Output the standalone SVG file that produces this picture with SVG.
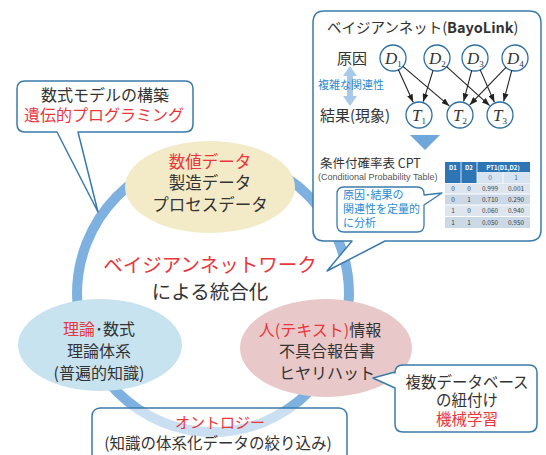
<svg xmlns="http://www.w3.org/2000/svg" width="546" height="455" viewBox="0 0 546 455">
<style>
text{font-family:"Noto Sans CJK JP","Noto Sans",sans-serif;fill:#333;}
.red{fill:#e8363d;}
.blue{fill:#2a8ad0;}
.bub{fill:#fff;stroke:#3a7bab;stroke-width:1.5;stroke-linejoin:round;}
.node{fill:#fff;stroke:#2e6fa0;stroke-width:1.3;}
.nl{font-family:"Liberation Serif",serif;font-style:italic;font-size:17px;fill:#333;}
.edge{stroke:#222;stroke-width:1.1;fill:none;marker-end:url(#ah);}
.th{fill:#fff;font-size:6px;font-weight:bold;text-anchor:middle;}
.td{font-size:6.5px;text-anchor:middle;fill:#444;}
.c{text-anchor:middle;}
</style>
<defs>
<marker id="ah" markerUnits="userSpaceOnUse" markerWidth="8" markerHeight="6" refX="8" refY="3" orient="auto"><path d="M0,0 L8,3 L0,6 z" fill="#222"/></marker>
</defs>

<!-- ring -->
<g id="ring"><ellipse cx="213" cy="294" rx="136" ry="138" fill="none" stroke="#7eb0e0" stroke-width="10"/></g>

<!-- ellipses -->
<g id="numeric">
<ellipse cx="210" cy="187" rx="85" ry="46" fill="#f3ebc8"/>
<text class="c" x="210" y="168" font-size="16.5"><tspan class="red">数値データ</tspan></text>
<text class="c" x="210" y="189" font-size="16.5">製造データ</text>
<text class="c" x="210" y="211" font-size="16.5">プロセスデータ</text>
</g>
<g id="theory">
<ellipse cx="100" cy="345" rx="82" ry="46" fill="#c8e3f0"/>
<text class="c" x="99" y="335" font-size="16"><tspan class="red">理論</tspan>･数式</text>
<text class="c" x="99" y="357" font-size="16">理論体系</text>
<text class="c" x="99" y="379" font-size="16">(普遍的知識)</text>
</g>
<g id="human">
<ellipse cx="326" cy="348" rx="86" ry="49" fill="#e8c8c8"/>
<text class="c" x="320" y="336" font-size="16"><tspan class="red">人(テキスト)</tspan>情報</text>
<text class="c" x="327" y="357" font-size="16">不具合報告書</text>
<text class="c" x="327" y="379" font-size="16">ヒヤリハット</text>
</g>

<g id="center-title">
<text class="c red" x="210" y="272" font-size="19.5">ベイジアンネットワーク</text>
<text class="c" x="210" y="299" font-size="19.5">による統合化</text>
</g>

<!-- ontology box -->
<g id="ontology">
<rect x="92" y="408" width="255" height="60" rx="8" fill="#fff" fill-opacity="0.6" stroke="#3a7bab" stroke-width="1.5"/>
<text class="c red" x="220" y="428" font-size="15">オントロジー</text>
<text class="c" x="218" y="449" font-size="15.5">(知識の体系化データの絞り込み)</text>
</g>

<!-- math model bubble -->
<g id="model">
<path class="bub" d="M25,81 H185 Q193,81 193,89 V124 Q193,132 185,132 H78 L98,212 L57,132 H25 Q17,132 17,124 V89 Q17,81 25,81 Z"/>
<text class="c" x="105" y="101" font-size="16">数式モデルの構築</text>
<text class="c red" x="104" y="121" font-size="16">遺伝的プログラミング</text>
</g>

<!-- DB linking bubble -->
<g id="linking">
<path class="bub" d="M403,365 H529 Q537,365 537,373 V424 Q537,432 529,432 H403 Q395,432 395,424 V388 L373,378 L395,372 V373 Q395,365 403,365 Z"/>
<text class="c" x="467" y="388" font-size="15.5">複数データベース</text>
<text class="c" x="467" y="406" font-size="15.5">の紐付け</text>
<text class="c red" x="467" y="425" font-size="15.5">機械学習</text>
</g>

<!-- BayoLink panel -->
<g id="bayolink">
<path class="bub" d="M324,11 H529 Q541,11 541,23 V230 Q541,241 529,241 H385 L327,271 L352,241 H324 Q313,241 313,230 V23 Q313,11 324,11 Z"/>
<text x="327" y="33" font-size="14.5">ベイジアンネット(<tspan font-weight="bold">BayoLink</tspan>)</text>
<text x="337" y="64" font-size="15">原因</text>
<text x="320" y="121" font-size="15">結果(現象)</text>
<path d="M350,66 L357,76 H353 V96 H357 L350,106 L343,96 H347 V76 H343 Z" fill="#a9c9ea"/>
<text class="blue" x="318" y="89" font-size="11">複雑な関連性</text>
</g>

<g id="D1"><circle class="node" cx="393" cy="58" r="13"/><text class="nl" x="385" y="64">D<tspan font-size="9" font-style="normal" dy="3">1</tspan></text></g>
<g id="D2"><circle class="node" cx="437" cy="58" r="13"/><text class="nl" x="429" y="64">D<tspan font-size="9" font-style="normal" dy="3">2</tspan></text></g>
<g id="D3"><circle class="node" cx="475" cy="58" r="13"/><text class="nl" x="467" y="64">D<tspan font-size="9" font-style="normal" dy="3">3</tspan></text></g>
<g id="D4"><circle class="node" cx="515" cy="58" r="13"/><text class="nl" x="507" y="64">D<tspan font-size="9" font-style="normal" dy="3">4</tspan></text></g>
<g id="T1"><circle class="node" cx="419" cy="115" r="13"/><text class="nl" x="412" y="121">T<tspan font-size="9" font-style="normal" dy="3">1</tspan></text></g>
<g id="T2"><circle class="node" cx="460" cy="115" r="13"/><text class="nl" x="453" y="121">T<tspan font-size="9" font-style="normal" dy="3">2</tspan></text></g>
<g id="T3"><circle class="node" cx="500" cy="115" r="13"/><text class="nl" x="493" y="121">T<tspan font-size="9" font-style="normal" dy="3">3</tspan></text></g>

<g id="connectors">
<line class="edge" x1="398.4" y1="69.8" x2="413.2" y2="102.3"/>
<line class="edge" x1="402.9" y1="66.4" x2="449.3" y2="105.9"/>
<line class="edge" x1="433.1" y1="70.4" x2="423.2" y2="101.7"/>
<line class="edge" x1="446.6" y1="66.7" x2="489.6" y2="105.6"/>
<line class="edge" x1="471.7" y1="70.6" x2="463.6" y2="101.4"/>
<line class="edge" x1="480.2" y1="69.9" x2="494.4" y2="102.2"/>
<line class="edge" x1="506" y1="67.4" x2="469.7" y2="104.9"/>
<line class="edge" x1="511.7" y1="70.6" x2="503.6" y2="101.4"/>
</g>

<g id="cpt">
<path d="M410,135 H440 L425,150 Z" fill="#6fa6dc"/>
<text x="320" y="168" font-size="12.5" fill="#555">条件付確率表 CPT</text>
<text x="318" y="180" font-size="9" style="font-family:'Liberation Sans',sans-serif;fill:#555">(Conditional Probability Table)</text>
<rect x="445" y="162" width="85" height="10" fill="#2e75b6"/>
<rect x="445" y="172" width="32" height="11" fill="#2e75b6"/>
<rect x="477" y="172" width="53" height="11" fill="#d6e3f0"/>
<line x1="461" y1="162" x2="461" y2="183" stroke="#fff" stroke-width="0.8"/>
<line x1="477" y1="162" x2="477" y2="183" stroke="#fff" stroke-width="0.8"/>
<line x1="503" y1="172" x2="503" y2="183" stroke="#fff" stroke-width="0.8"/>
<rect x="445" y="183.5" width="85" height="10" fill="#dde5ee"/>
<rect x="445" y="194.5" width="85" height="10" fill="#cbd8e6"/>
<rect x="445" y="205.5" width="85" height="10.5" fill="#dde5ee"/>
<rect x="445" y="217" width="85" height="11" fill="#cbd8e6"/>
<text class="th" x="453" y="169.5">D1</text>
<text class="th" x="469" y="169.5">D2</text>
<text class="th" x="503" y="169.5">PT1(D1,D2)</text>
<text class="td" x="490" y="180" style="fill:#2e75b6">0</text>
<text class="td" x="516" y="180" style="fill:#2e75b6">1</text>
<text class="td" x="453" y="191">0</text><text class="td" x="469" y="191">0</text><text class="td" x="490" y="191">0.999</text><text class="td" x="516" y="191">0.001</text>
<text class="td" x="453" y="202">0</text><text class="td" x="469" y="202">1</text><text class="td" x="490" y="202">0.710</text><text class="td" x="516" y="202">0.290</text>
<text class="td" x="453" y="213">1</text><text class="td" x="469" y="213">0</text><text class="td" x="490" y="213">0.060</text><text class="td" x="516" y="213">0.940</text>
<text class="td" x="453" y="225">1</text><text class="td" x="469" y="225">1</text><text class="td" x="490" y="225">0.050</text><text class="td" x="516" y="225">0.950</text>
</g>

<g id="analysis">
<path d="M344,187 H417 Q424,187 424,194 V195 L442,193 L424,205 V225 Q424,232 417,232 H344 Q337,232 337,225 V194 Q337,187 344,187 Z" fill="#fff" stroke="#3a7bab" stroke-width="1.3" stroke-linejoin="round"/>
<text class="blue" x="343" y="199" font-size="11">原因･結果の</text>
<text class="blue" x="343" y="213" font-size="11">関連性を定量的</text>
<text class="blue" x="343" y="227" font-size="11">に分析</text>
</g>
</svg>
